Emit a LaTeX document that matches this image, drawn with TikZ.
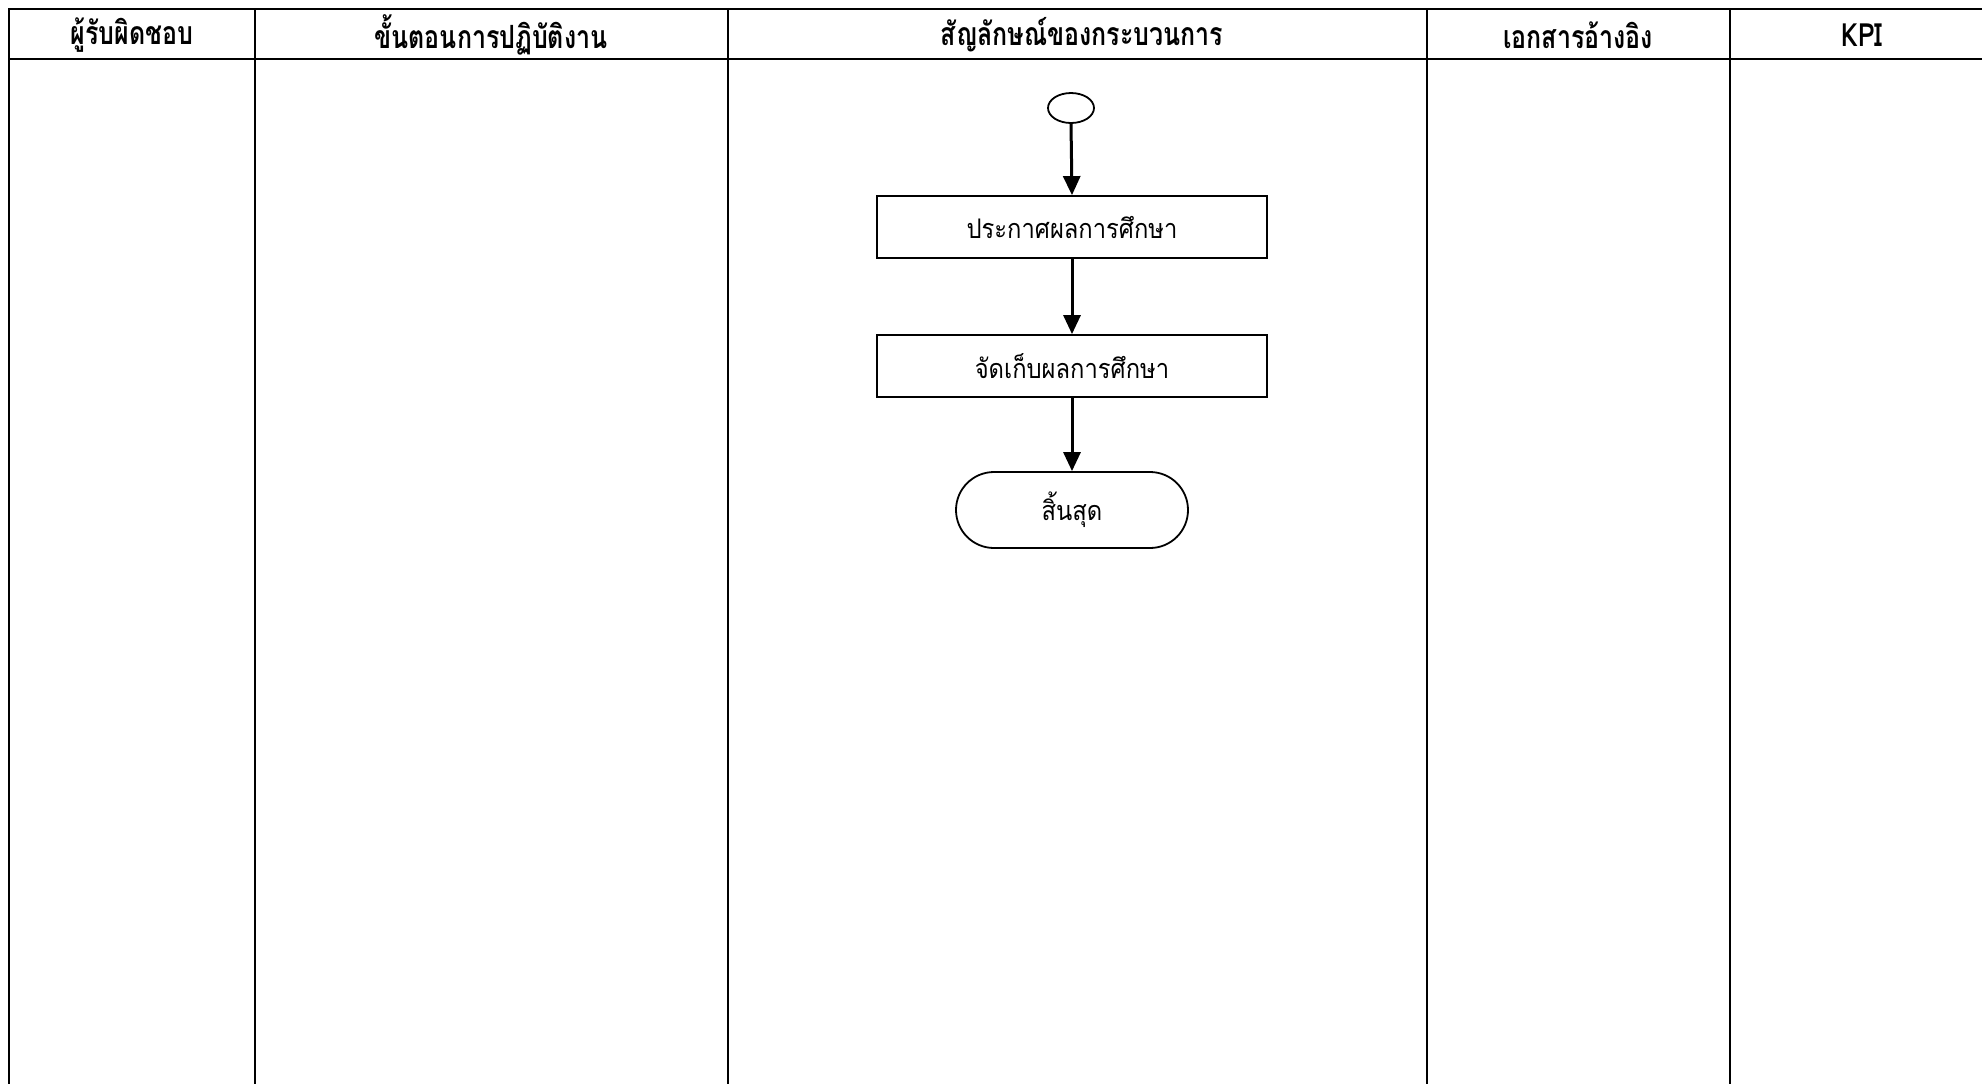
\documentclass[tikz,border=0pt]{standalone}
\usepackage{fontspec}
\newfontfamily\thai[Script=Thai]{Loma}
\usetikzlibrary{shapes.geometric,shapes.misc,arrows.meta}
\newcommand{\hdrtext}[1]{\scalebox{0.78}[1]{#1}}
\newcommand{\boxtext}[1]{\scalebox{0.88}[1]{#1}}
\begin{document}
\begin{tikzpicture}[x=0.5pt,y=-0.5pt,
  tbl/.style={line width=1pt},
  hdr/.style={font=\thai\bfseries\fontsize{16}{18}\selectfont, inner sep=0pt},
  procbox/.style={draw, line width=0.9pt, rectangle, minimum width=195pt, minimum height=31pt, inner sep=0pt, font=\thai\fontsize{13.5}{15}\selectfont},
  startc/.style={draw, line width=0.9pt, ellipse, minimum width=23pt, minimum height=15pt, inner sep=0pt},
  endterm/.style={draw, line width=0.9pt, rounded rectangle, minimum width=116pt, minimum height=38pt, inner sep=0pt, font=\thai\fontsize{13.5}{15}\selectfont},
  flow/.style={line width=1.5pt, -{Triangle[width=8.5pt,length=9.5pt]}}
]
\useasboundingbox (0,0) rectangle (1982,1083);
% table
\draw[tbl] (1982,9) -- (9,9) -- (9,1090);
\draw[tbl] (9,59) -- (1982,59);
\draw[tbl] (255,9) -- (255,1090);
\draw[tbl] (728,9) -- (728,1090);
\draw[tbl] (1427,9) -- (1427,1090);
\draw[tbl] (1730,9) -- (1730,1090);
% headers
\node[hdr] (h1) at (132,35) {\hdrtext{ผู้รับผิดชอบ}};
\node[hdr] (h2) at (491,35) {\hdrtext{ขั้นตอนการปฏิบัติงาน}};
\node[hdr] (h3) at (1082,35) {\hdrtext{สัญลักษณ์ของกระบวนการ}};
\node[hdr] (h4) at (1578,35) {\hdrtext{เอกสารอ้างอิง}};
\node[hdr] (h5) at (1862,35) {\hdrtext{KPI}};
% flow
\node[startc] (s) at (1071,108) {};
\node[procbox] (b1) at (1072,227) {\boxtext{ประกาศผลการศึกษา}};
\node[procbox] (b2) at (1072,366) {\boxtext{จัดเก็บผลการศึกษา}};
\node[endterm] (e) at (1072,510) {\boxtext{สิ้นสุด}};
\draw[flow] (s.south) -- (b1.north);
\draw[flow] (b1.south) -- (b2.north);
\draw[flow] (b2.south) -- (e.north);
\end{tikzpicture}
\end{document}
